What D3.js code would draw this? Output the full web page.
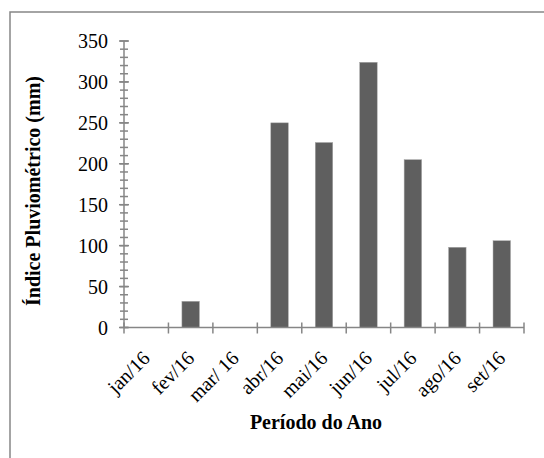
<!DOCTYPE html>
<html><head><meta charset="utf-8">
<script src="https://cdn.jsdelivr.net/npm/d3@7"></script>
<style>body{margin:0;background:#fff}svg{display:block}text{font-family:"Liberation Serif","Times New Roman",serif}</style>
</head><body><svg id="c" width="544" height="458"></svg>
<script>
const categories = ["jan/16","fev/16","mar/ 16","abr/16","mai/16","jun/16","jul/16","ago/16","set/16"];
const values = [0, 32, 0, 250, 226, 324, 205, 98, 106];
const yTicks = [0,50,100,150,200,250,300,350];
const yMinorTicks = d3.range(0, 351, 10);

const svg = d3.select("#c");
const m = {l:124, r:524, t:41, b:327.5};
const axisColor = "#868686";

svg.append("rect").attr("x",10).attr("y",12).attr("width",560).attr("height",470)
  .attr("fill","#fff").attr("stroke",axisColor).attr("stroke-width",1.5);

const xb = d3.scaleBand().domain(categories).range([m.l, m.r]);
const y = d3.scaleLinear().domain([0,350]).range([m.b, m.t]);

// bars
svg.selectAll("rect.bar").data(values).enter().append("rect").attr("class","bar")
  .attr("x",(d,i)=>xb(categories[i]) + (xb.bandwidth()-17.5)/2)
  .attr("width",17.5)
  .attr("y",d=>y(d)).attr("height",d=>y(0)-y(d))
  .attr("fill","#5f5f5f").attr("stroke","#a8a8a8").attr("stroke-width",0.5);

// y axis
const gy = svg.append("g");
gy.selectAll("line.minor").data(yMinorTicks).enter().append("line")
  .attr("x1",m.l-4).attr("x2",m.l+4).attr("y1",d=>y(d)).attr("y2",d=>y(d))
  .attr("stroke",axisColor).attr("stroke-width",1.5);
gy.selectAll("line.major").data(yTicks).enter().append("line")
  .attr("x1",m.l-5).attr("x2",m.l+5).attr("y1",d=>y(d)).attr("y2",d=>y(d))
  .attr("stroke",axisColor).attr("stroke-width",1.5);
gy.append("line").attr("x1",m.l).attr("x2",m.l).attr("y1",y(0)).attr("y2",y(350))
  .attr("stroke",axisColor).attr("stroke-width",1.5);
gy.selectAll("text").data(yTicks).enter().append("text")
  .attr("x",m.l-16).attr("y",d=>y(d)).attr("dy","0.35em").attr("text-anchor","end")
  .attr("font-size",20).attr("fill","#000").text(d=>d);

// x axis
const gx = svg.append("g");
gx.append("line").attr("x1",m.l).attr("x2",m.r).attr("y1",y(0)).attr("y2",y(0))
  .attr("stroke",axisColor).attr("stroke-width",1.5);
const edges = categories.map(c=>xb(c)).concat([m.r]);
gx.selectAll("line.t").data(edges).enter().append("line")
  .attr("x1",d=>d).attr("x2",d=>d).attr("y1",y(0)-5).attr("y2",y(0)+6)
  .attr("stroke",axisColor).attr("stroke-width",1.5);
gx.selectAll("text").data(categories).enter().append("text")
  .attr("transform",d=>`translate(${xb(d)+xb.bandwidth()/2-5},${y(0)+22}) rotate(-45)`)
  .attr("text-anchor","end").attr("dy","0.7em").attr("font-size",20).attr("fill","#000").text(d=>d);

// titles
svg.append("text").attr("x",316).attr("y",429).attr("text-anchor","middle")
  .attr("font-size",20).attr("font-weight","bold").text("Período do Ano");
svg.append("text").attr("transform","translate(40,191) rotate(-90)").attr("text-anchor","middle")
  .attr("font-size",20).attr("font-weight","bold").text("Índice Pluviométrico (mm)");
</script></body></html>
